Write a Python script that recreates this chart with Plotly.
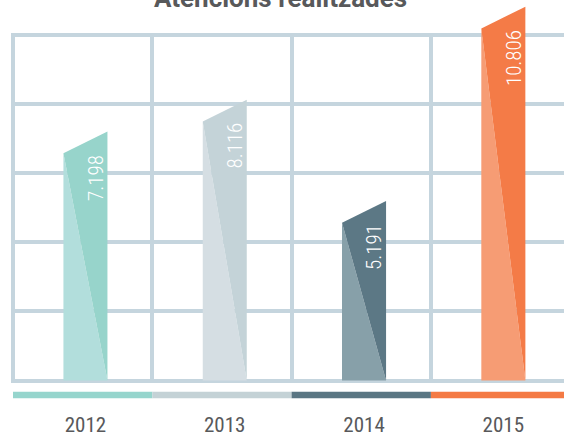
import plotly.graph_objects as go

# ---- data ----
years = ["2012", "2013", "2014", "2015"]
values = [7198, 8116, 5191, 10806]
title_text = "Atencions realitzades"

# ---- styles ----
dark_colors = ["#97d4cb", "#c4d3d8", "#5c7885", "#f47b47"]
light_colors = ["#b2dedc", "#d5dee3", "#87a0a9", "#f69c74"]
band_colors = ["#96d5cd", "#c4d2d6", "#5a7683", "#f47a44"]
grid_color = "#c5d5de"
text_color = "#58595b"
COND = "Roboto Condensed, DejaVu Sans Condensed, sans-serif"

W, H = 564, 437
CELL = 139.3          # px per category cell
X0 = 13               # px of first cell boundary
PXU = 0.035           # px per value unit
BASE_PX = 385         # px of value 0
SLANT = 630           # value units the left top edge sits below the right
OFF = 0.52            # bar centre inside its cell
HALF = 0.158          # half bar width (cells)

x_range_full = [-X0 / CELL, (W - X0) / CELL]
x_range_grid = [-2 / CELL, (W - X0) / CELL]
y_range_full = [-(H - BASE_PX) / PXU, BASE_PX / PXU]

fig = go.Figure()

# invisible trace to hold grid subplot
fig.add_trace(go.Scatter(x=[0], y=[0], mode="markers", marker=dict(opacity=0),
                         xaxis="x", yaxis="y", hoverinfo="skip", showlegend=False))

# slanted two-tone bars
for i, v in enumerate(values):
    c = i + OFF
    xl, xr = c - HALF, c + HALF
    # light lower-left triangle
    fig.add_trace(go.Scatter(
        x=[xl, xl, xr, xl], y=[0, v - SLANT, 0, 0], fill="toself",
        fillcolor=light_colors[i], mode="lines", line=dict(width=0),
        xaxis="x2", yaxis="y2", hoverinfo="skip", showlegend=False))
    # dark upper-right part
    fig.add_trace(go.Scatter(
        x=[xl, xr, xr, xl], y=[v - SLANT, v, 0, v - SLANT], fill="toself",
        fillcolor=dark_colors[i], mode="lines", line=dict(width=0),
        xaxis="x2", yaxis="y2", hoverinfo="skip", showlegend=False))
    fig.add_annotation(
        x=c + 0.072, y=v, xref="x2", yref="y2",
        text=f"{v:,}".replace(",", "."), textangle=-90, showarrow=False,
        xanchor="center", yanchor="top", yshift=-21,
        font=dict(family=COND, size=21, weight=300, color="white"))

# bottom colour band
fig.add_trace(go.Bar(
    x=[i + 0.5 for i in range(len(years))], y=[1] * len(years), width=1,
    marker=dict(color=band_colors, line=dict(width=0)),
    xaxis="x3", yaxis="y3", hoverinfo="skip", showlegend=False))

fig.add_annotation(
    x=280 / W, y=1, xref="paper", yref="paper", text=f"<b>{title_text}</b>",
    showarrow=False, xanchor="center", yanchor="bottom", yshift=-15,
    font=dict(family="Roboto", size=26, color=text_color))

hidden = dict(showticklabels=False, ticks="", showline=False, zeroline=False)

fig.update_layout(
    width=W, height=H,
    margin=dict(l=0, r=0, t=0, b=0),
    paper_bgcolor="white", plot_bgcolor="rgba(0,0,0,0)",
    showlegend=False,
    xaxis=dict(domain=[11 / W, 1], range=x_range_grid, tickmode="array",
               tickvals=list(range(len(years))), showgrid=True,
               gridcolor=grid_color, gridwidth=4, anchor="y", **hidden),
    yaxis=dict(domain=[(H - 387) / H, (H - 33) / H],
               range=[-2 / PXU, 10000 + 2 / PXU], tickmode="array",
               tickvals=[0, 2000, 4000, 6000, 8000, 10000], showgrid=True,
               gridcolor=grid_color, gridwidth=4, anchor="x", **hidden),
    xaxis2=dict(domain=[0, 1], range=x_range_full, showgrid=False, anchor="y2", **hidden),
    yaxis2=dict(domain=[0, 1], range=y_range_full, showgrid=False, anchor="x2", **hidden),
    xaxis3=dict(domain=[11 / W, 1], range=x_range_grid, showgrid=False, anchor="y3",
                tickmode="array", tickvals=[i + OFF for i in range(len(years))],
                ticktext=years, showticklabels=True, ticks="", showline=False,
                zeroline=False, ticklabelstandoff=12,
                tickfont=dict(family=COND, size=21, color=text_color)),
    yaxis3=dict(domain=[(H - 403) / H, (H - 396) / H], range=[0, 1],
                showgrid=False, anchor="x3", **hidden),
)

fig.write_html("out.html", config=dict(displayModeBar=False),
               post_script="document.body.style.margin='0';")
